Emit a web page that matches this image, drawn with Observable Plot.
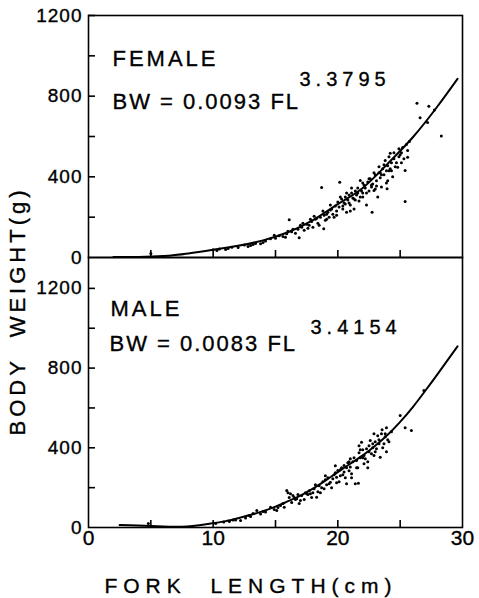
<!DOCTYPE html>
<html><head><meta charset="utf-8">
<script src="https://cdn.jsdelivr.net/npm/d3@7"></script>
<script src="https://cdn.jsdelivr.net/npm/@observablehq/plot@0.6"></script>
<style>
html,body{margin:0;padding:0;background:#fff;}
#chart{position:relative;width:479px;height:598px;overflow:hidden;}
#chart svg{position:absolute;left:0;}
#chart text{stroke:#000;stroke-width:0.35px;}
</style></head><body><div id="chart"></div>
<script>
// Tick values
const xTicks = [5, 10, 15, 20, 25];
const xLabelTicks = [0, 10, 20, 30];
const yTicks = [200, 400, 600, 800, 1000, 1200];
const yLabelTicks = [0, 400, 800, 1200];

// Female observations (fork length cm, body weight g)
const femaleFL = [5.0,10.0,10.5,11.0,11.5,12.0,12.5,13.0,13.4,13.8,14.2,14.6,15.0,15.3,15.6,15.9,16.1,16.3,16.6,16.9,16.8,17.1,17.3,17.5,17.7,17.9,18.0,18.2,18.4,18.6,18.7,18.87,18.9,19.0,19.2,19.3,19.5,19.6,19.8,19.9,20.0,20.15,20.1,20.3,20.4,20.5,20.6,20.7,20.8,20.9,21.0,21.1,21.2,21.3,21.4,21.5,21.6,21.7,21.8,21.9,22.0,22.1,22.2,22.3,22.4,22.5,22.6,22.75,22.8,22.9,23.0,23.1,23.2,23.3,23.4,23.5,23.6,23.7,23.8,23.9,23.95,24.0,24.1,24.2,24.3,24.4,24.5,24.6,24.8,24.9,25.0,25.1,25.2,25.4,25.4,25.5,25.6,25.74,26.35,26.6,27.2,27.3,27.75,28.3,19.4,20.6,21.3,22.0,22.7,23.4,24.2,17.0,18.3,19.1,16.0,14.9,12.8,
  17.2,17.6,17.8,18.1,18.5,18.8,19.1,19.4,19.7,20.2,20.4,20.7,20.9,21.1,21.4,21.6,21.8,22.0,22.3,22.5,22.7,22.9,23.1,23.3,23.5,23.7,23.9,24.1,24.3,24.5,24.7,24.9,25.1,25.3,25.6,24.0,23.0,21.0,19.9,16.4,15.8,14.0,13.2,11.2,10.3];
const femaleBW = [20,38,42,40,51,50,62,60,70,68,82,93,95,108,104,118,187,128,120,98,140,150,135,165,160,178,150,190,170,200,347,142,210,185,225,200,240,215,255,230,275,373,250,290,240,270,300,225,285,310,260,320,295,240,330,310,345,280,382,330,300,360,345,260,375,330,390,225,365,332,410,380,300,420,395,350,440,410,481,370,341,455,430,517,470,400,490,450,448,539,510,470,545,431,278,560,497,575,765,693,669,750,732,603,260,265,290,320,360,420,440,160,195,215,130,110,55,
  170,145,190,205,160,230,190,235,200,300,255,320,270,345,285,320,300,370,320,390,350,420,355,450,410,460,430,500,430,520,470,500,520,490,530,380,340,230,210,140,100,75,65,45,35];

// Male observations
const maleFL = [4.8,10.2,10.85,11.3,11.8,12.2,12.6,13.0,13.5,13.8,14.2,14.6,14.9,15.1,15.4,15.7,15.9,16.0,16.2,16.3,16.5,16.7,16.9,17.1,17.3,17.5,17.7,17.9,18.1,18.3,18.5,18.6,18.8,18.9,19.1,19.2,19.4,19.5,19.7,19.9,20.0,20.1,20.3,20.5,20.5,20.6,20.7,20.8,21.0,21.0,21.1,21.3,21.4,21.5,21.65,21.6,21.7,21.9,22.0,22.1,22.1,22.3,22.4,22.5,22.6,22.7,22.9,23.0,23.1,23.2,23.4,23.5,23.55,23.7,23.8,23.9,24.0,25.0,25.4,25.9,26.9,19.0,19.8,20.2,20.9,21.8,22.8,23.3,17.6,18.0,16.6,15.2,13.2,
  15.6,16.1,16.4,16.8,17.0,17.4,17.8,18.2,18.4,18.7,19.0,19.3,19.6,19.9,20.2,20.4,20.7,20.9,21.2,21.5,21.8,22.0,22.2,22.5,22.8,23.0,23.3,23.6,23.8,24.1,24.3,21.1,22.4,23.9,14.0,12.9,11.6,19.8,21.7,22.9];
const maleBW = [20,20,27,30,38,35,48,55,85,68,78,102,90,85,110,102,186,175,169,125,150,144,120,160,140,169,185,150,195,152,210,175,230,194,215,250,227,200,265,252,286,230,300,278,311,250,219,325,303,345,270,350,219,336,222,300,375,428,350,361,320,395,330,410,437,370,361,430,395,460,353,470,490,420,455,500,440,562,500,487,688,240,275,260,330,390,400,420,165,175,140,100,70,
  120,150,160,165,135,175,170,215,180,200,260,220,245,225,290,265,300,285,330,300,350,390,345,380,420,380,440,400,470,430,480,250,300,380,80,60,38,310,410,470];

// Fitted curves as drawn on the figure
const femaleCurveFL = [2,4,6,8,10,12,14,16,18,20,22,24,26,28,29.6];
const femaleCurveBW = [3,3,7,20,38,58,85,125,185,265,345,465,595,750,886];
const maleCurveFL = [2.5,5,7.5,9.5,11,12.2,13.5,14.9,16,17,18,19,20,21,22,23,24,25,26,27,28,29.6];
const maleCurveBW = [12,8,4,17,32,50,72,102,132,160,195,235,278,320,362,410,465,530,603,685,770,909];

const FONT = '"Liberation Sans", Arial, Helvetica, sans-serif';
const W = 479, ML = 88, MR = 17, TICK = 7;

function panel(o) {
  const pts = o.fl.map((x, i) => ({fl: x, bw: o.bw[i]}));
  const crv = o.cfl.map((x, i) => ({fl: x, bw: o.cbw[i]}));
  const innerW = W - ML - MR, innerH = o.height - o.mt - o.mb;
  const marks = [
    Plot.frame({stroke: "black", strokeWidth: 1.6}),
    Plot.tickY(yTicks, {y: d => d, insetRight: innerW - TICK, stroke: "black", strokeWidth: 1.6}),
    Plot.tickX(xTicks, {x: d => d, insetTop: innerH - TICK, stroke: "black", strokeWidth: 1.6}),
    Plot.axisY(yLabelTicks, {tickSize: 0, tickPadding: 6, fontSize: 19, label: null, tickFormat: d => String(d)}),
    Plot.line(crv, {x: "fl", y: "bw", curve: "natural", stroke: "black", strokeWidth: 2}),
    Plot.dot(pts, {x: "fl", y: "bw", r: 1.5, fill: "black", stroke: "none"}),
    Plot.text([o.name], {text: d => d, frameAnchor: "top-left", dx: o.nameDx, dy: o.nameDy, lineAnchor: "bottom", textAnchor: "start", fontSize: 22}),
    Plot.text([o.eq], {text: d => d, frameAnchor: "top-left", dx: o.eqDx, dy: o.eqDy, lineAnchor: "bottom", textAnchor: "start", fontSize: 22}),
    Plot.text([o.exp], {text: d => d, frameAnchor: "top-left", dx: o.expDx, dy: o.expDy, lineAnchor: "bottom", textAnchor: "start", fontSize: 20})
  ];
  if (o.xLabels) marks.push(Plot.axisX(xLabelTicks, {tickSize: 0, tickPadding: 3, fontSize: 21, label: null, tickFormat: d => String(d)}));
  const svg = Plot.plot({
    width: W, height: o.height,
    marginLeft: ML, marginRight: MR, marginTop: o.mt, marginBottom: o.mb,
    x: {domain: [0, 30], axis: o.xLabels ? undefined : null},
    y: {domain: [0, o.yMax]},
    style: {fontFamily: FONT, color: "black", background: "none", overflow: "visible"},
    marks
  });
  svg.style.top = o.top + "px";
  const s = d3.select(svg);
  s.selectAll('g[aria-label="y-axis tick label"]').style("letter-spacing", "1px");
  const texts = s.selectAll('g[aria-label="text"]').nodes();
  if (texts[0]) texts[0].style.letterSpacing = "3px";
  if (texts[1]) texts[1].style.letterSpacing = "2px";
  if (texts[2]) texts[2].style.letterSpacing = "5px";
  return svg;
}

const chart = document.getElementById("chart");
chart.appendChild(panel({
  fl: femaleFL, bw: femaleBW, cfl: femaleCurveFL, cbw: femaleCurveBW,
  yMax: 1200, height: 262, mt: 15, mb: 5, top: 0, xLabels: false,
  name: "FEMALE", nameDx: 24, nameDy: 50,
  eq: "BW = 0.0093 FL", eqDx: 24, eqDy: 93,
  exp: "3.3795", expDx: 211, expDy: 70
}));
chart.appendChild(panel({
  fl: maleFL, bw: maleBW, cfl: maleCurveFL, cbw: maleCurveBW,
  yMax: 1355, height: 346, mt: 5, mb: 71, top: 252, xLabels: true,
  name: "MALE", nameDx: 22, nameDy: 58,
  eq: "BW = 0.0083 FL", eqDx: 21, eqDy: 93,
  exp: "3.4154", expDx: 222, expDy: 76
}));

// Axis titles
const ns = "http://www.w3.org/2000/svg";
const ov = document.createElementNS(ns, "svg");
ov.setAttribute("width", 479); ov.setAttribute("height", 598);
ov.style.top = "0px"; ov.style.pointerEvents = "none";
function addText(str, attrs) {
  const t = document.createElementNS(ns, "text");
  for (const k in attrs) t.setAttribute(k, attrs[k]);
  t.textContent = str;
  ov.appendChild(t);
}
addText("BODY  WEIGHT(g)", {transform: "translate(25,311) rotate(-90)", "text-anchor": "middle",
  "font-family": FONT, "font-size": 22, "letter-spacing": "4px", style: "white-space:pre"});
addText("FORK  LENGTH(cm)", {x: 251, y: 593, "text-anchor": "middle",
  "font-family": FONT, "font-size": 21, "letter-spacing": "6px", style: "white-space:pre"});
chart.appendChild(ov);
</script>
</body></html>
